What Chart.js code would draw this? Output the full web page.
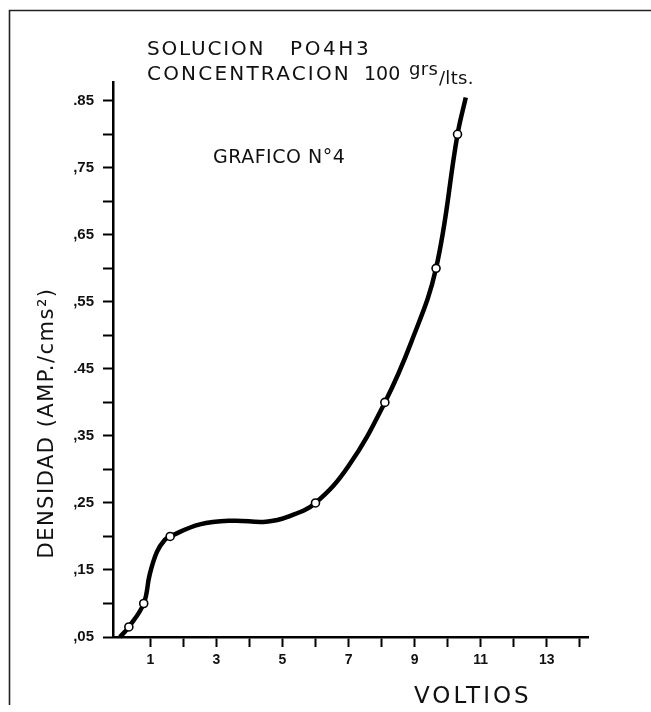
<!DOCTYPE html>
<html><head><meta charset="utf-8">
<script src="https://cdn.jsdelivr.net/npm/chart.js@4.4.1/dist/chart.umd.min.js"></script>
<style>html,body{margin:0;padding:0;background:#fff}canvas{display:block}</style>
</head><body>
<canvas id="c" width="651" height="712"></canvas>
<script>
// Hand-drawn curve
const curveX = [0.08, 0.35, 0.8, 0.98, 1.2, 1.44, 1.6, 2.5, 3.5, 4.5, 5.2, 6.0, 7.0, 8.1, 8.9, 9.65, 10.3, 10.55];
const curveY = [0.05, 0.065, 0.10, 0.143, 0.177, 0.195, 0.20, 0.218, 0.2235, 0.222, 0.23, 0.25, 0.305, 0.40, 0.49, 0.60, 0.80, 0.855];
// Measured points (open circles)
const pointX = [0.35, 0.8, 1.6, 6.0, 8.1, 9.65, 10.3];
const pointY = [0.065, 0.10, 0.20, 0.25, 0.40, 0.60, 0.80];
// Ticks
const xTickValues = [1,2,3,4,5,6,7,8,9,10,11,12,13,14];
const xTickLabels = ['1','','3','','5','','7','','9','','11','','13',''];
const yTickValues = [0.05,0.10,0.15,0.20,0.25,0.30,0.35,0.40,0.45,0.50,0.55,0.60,0.65,0.70,0.75,0.80,0.85];
const yTickLabels = [',05','',',15','',',25','',',35','','.45','',',55','',',65','',',75','','.85'];
// Texts
const titleA = 'SOLUCION';
const titleB = 'PO4H3';
const titleLine2 = 'CONCENTRACION';
const concValue = '100';
const concUnitTop = 'grs';
const concUnitBottom = '/lts.';
const graphLabel = 'GRAFICO N°4';
const xTitle = 'VOLTIOS';
const yTitle = 'DENSIDAD (AMP./cms²)';

const X_MIN = -0.13, X_MAX = 14.25, Y_MIN = 0.05, Y_MAX = 0.878;

const textPlugin = {
  id: 'texts',
  afterDraw(chart) {
    const ctx = chart.ctx;
    ctx.save();
    // frame
    ctx.strokeStyle = '#222';
    ctx.lineWidth = 1.6;
    ctx.beginPath();
    ctx.moveTo(9.5, 705); ctx.lineTo(9.5, 10.5); ctx.lineTo(651, 10.5);
    ctx.stroke();

    ctx.fillStyle = '#111';
    ctx.textBaseline = 'alphabetic';
    ctx.textAlign = 'left';
    const F = "'DejaVu Sans', sans-serif";
    ctx.font = '20px ' + F;
    ctx.letterSpacing = '1.8px';
    ctx.fillText(titleA, 147, 55);
    ctx.letterSpacing = '2.6px';
    ctx.fillText(titleB, 290, 55);
    ctx.letterSpacing = '2.2px';
    ctx.fillText(titleLine2, 147, 80);
    ctx.font = '19px ' + F;
    ctx.letterSpacing = '0px';
    ctx.fillText(concValue, 364, 80);
    ctx.font = '18px ' + F;
    ctx.letterSpacing = '0.3px';
    ctx.fillText(concUnitTop, 409, 75);
    ctx.fillText(concUnitBottom, 439, 84);
    ctx.font = '19px ' + F;
    ctx.letterSpacing = '0.5px';
    ctx.fillText(graphLabel, 213, 163);
    ctx.font = '23px ' + F;
    ctx.letterSpacing = '3px';
    ctx.fillText(xTitle, 414, 703);
    // y title rotated
    ctx.translate(53, 423);
    ctx.rotate(-Math.PI / 2);
    ctx.textAlign = 'center';
    ctx.font = '21px ' + F;
    ctx.letterSpacing = '1.5px';
    ctx.fillText(yTitle, 0, 0);
    ctx.restore();
  }
};

new Chart(document.getElementById('c'), {
  type: 'scatter',
  data: {
    datasets: [
      {
        data: pointX.map((x, i) => ({x: x, y: pointY[i]})),
        pointRadius: 4,
        pointBorderWidth: 1.6,
        pointBackgroundColor: '#fff',
        pointBorderColor: '#000',
        showLine: false,
        order: 0
      },
      {
        data: curveX.map((x, i) => ({x: x, y: curveY[i]})),
        showLine: true,
        borderColor: '#000',
        borderWidth: 4.5,
        pointRadius: 0,
        tension: 0.4,
        cubicInterpolationMode: 'default',
        fill: false,
        order: 1
      }
    ]
  },
  options: {
    responsive: false,
    devicePixelRatio: 1,
    animation: false,
    events: [],
    clip: false,
    layout: { padding: { left: 0, right: 63, top: 82, bottom: 0 } },
    plugins: { legend: { display: false }, tooltip: { enabled: false } },
    scales: {
      x: {
        type: 'linear',
        min: X_MIN, max: X_MAX,
        afterFit: s => { s.height = 75; },
        afterBuildTicks: s => { s.ticks = xTickValues.map(v => ({value: v})); },
        grid: { display: true, drawOnChartArea: false, drawTicks: true, tickLength: 10, tickColor: '#000', tickWidth: 2, color: '#000' },
        border: { display: true, color: '#000', width: 2.5 },
        ticks: {
          autoSkip: false, maxRotation: 0, padding: 5, color: '#111',
          font: { family: "'Liberation Sans', Arial, sans-serif", size: 14, weight: 'bold' },
          callback: (v, i) => xTickLabels[i]
        }
      },
      y: {
        type: 'linear',
        min: Y_MIN, max: Y_MAX,
        afterFit: s => { s.width = 113; },
        afterBuildTicks: s => { s.ticks = yTickValues.map(v => ({value: v})); },
        grid: { display: true, drawOnChartArea: false, drawTicks: true, tickLength: 10, tickColor: '#000', tickWidth: 2, color: '#000' },
        border: { display: true, color: '#000', width: 2.5 },
        ticks: {
          autoSkip: false, padding: 9, color: '#111',
          font: { family: "'Liberation Sans', Arial, sans-serif", size: 15, weight: 'bold' },
          callback: (v, i) => yTickLabels[i]
        }
      }
    }
  },
  plugins: [textPlugin]
});
</script>
</body></html>
